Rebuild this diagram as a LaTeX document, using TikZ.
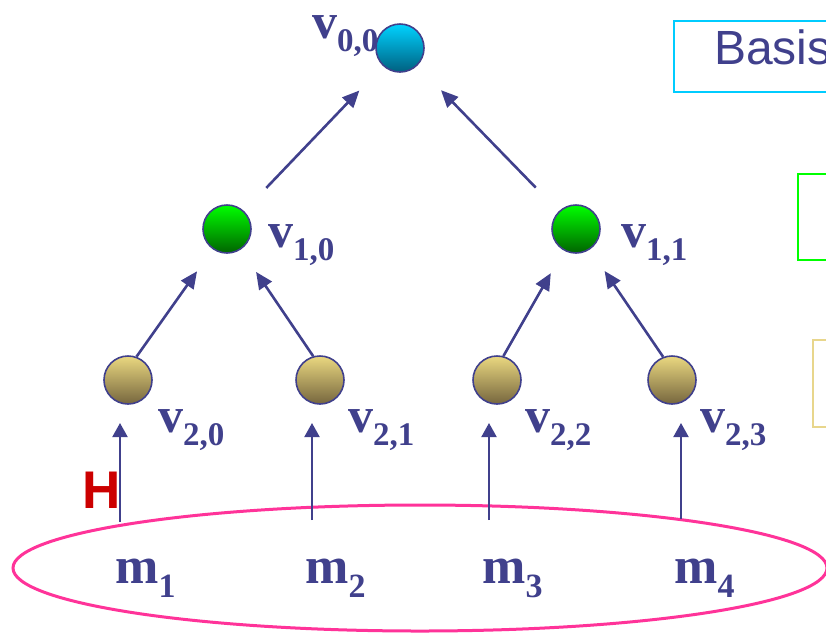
\documentclass[tikz,border=0pt]{standalone}
\usepackage{fontspec}
\setmainfont{Liberation Serif}
\newfontfamily\sansfont{Liberation Sans}
\usetikzlibrary{positioning}
\usetikzlibrary{arrows.meta}
\usetikzlibrary{shapes.geometric}

\definecolor{navy}{RGB}{64,64,140}
\definecolor{hotpink}{RGB}{255,51,153}
\definecolor{hred}{RGB}{204,0,0}
\definecolor{boxcyan}{RGB}{0,204,255}
\definecolor{boxgreen}{RGB}{0,255,0}
\definecolor{boxtan}{RGB}{232,214,140}
\definecolor{rootTop}{RGB}{0,210,255}
\definecolor{rootBot}{RGB}{0,96,128}
\definecolor{midTop}{RGB}{0,255,0}
\definecolor{midBot}{RGB}{0,100,0}
\definecolor{leafTop}{RGB}{234,216,128}
\definecolor{leafBot}{RGB}{118,102,62}

\newcommand{\vname}[2]{{\fontsize{50}{50}\selectfont\bfseries #1}\raisebox{-13pt}{\fontsize{33}{33}\selectfont\bfseries #2}}
\newcommand{\mname}[1]{{\fontsize{52}{52}\selectfont\bfseries m}\raisebox{-14pt}{\fontsize{34}{34}\selectfont\bfseries #1}}

\tikzset{
    vertex/.style={circle, draw=navy, line width=1.6pt, minimum size=48pt, inner sep=0pt},
    root/.style={vertex, top color=rootTop, bottom color=rootBot},
    mid/.style={vertex, top color=midTop, bottom color=midBot},
    leaf/.style={vertex, top color=leafTop, bottom color=leafBot},
    lbl/.style={anchor=base west, inner sep=0pt, text=navy},
    edge/.style={->, navy, line width=2.6pt},
    hash/.style={-{Triangle[length=14pt,width=15pt]}, navy, line width=2pt},
}

\begin{document}
\begin{tikzpicture}[x=1pt, y=-1pt, >={Triangle[length=17pt,width=15pt]}]
        \useasboundingbox (0,0) rectangle (826,633);
        \clip (0,0) rectangle (826,633);

        % Boxes on the right
        \draw[boxcyan, line width=2pt] (674,21) rectangle (900,92);
        \node[anchor=base west, inner sep=0pt, text=navy, font=\sansfont\fontsize{48}{48}\selectfont] (basis) at (714,64) {Basis};
        \draw[boxgreen, line width=2pt] (798,174) rectangle (900,260);
        \draw[boxtan, line width=2pt] (813,340) rectangle (900,427);

        % Labels (drawn before the circles)
        \node[lbl] (l00) at (312,38) {\vname{v}{0,0}};
        \node[lbl] (l10) at (268,247) {\vname{v}{1,0}};
        \node[lbl] (l11) at (621,247) {\vname{v}{1,1}};
        \node[lbl] (l20) at (158,432) {\vname{v}{2,0}};
        \node[lbl] (l21) at (348,432) {\vname{v}{2,1}};
        \node[lbl] (l22) at (525,432) {\vname{v}{2,2}};
        \node[lbl] (l23) at (700,432) {\vname{v}{2,3}};

        % Tree
        \node[root] (v00) at (400,48) {};
        \node[mid] (v10) at (227,229) {};
        \node[mid] (v11) at (576,229) {};
        \node[leaf] (v20) at (128,380) {};
        \node[leaf] (v21) at (320,380) {};
        \node[leaf] (v22) at (497,380) {};
        \node[leaf] (v23) at (672,380) {};

        \draw[edge, shorten <=32pt, shorten >=34pt] (v10) -- (v00);
        \draw[edge, shorten <=33pt, shorten >=34pt] (v11) -- (v00);
        \draw[edge, shorten >=27pt] (v20.70) -- (v10);
        \draw[edge, shorten >=27pt] (v21.106) -- (v10);
        \draw[edge, shorten >=26pt] (v22.75) -- (v11);
        \draw[edge, shorten >=26pt] (v23.111) -- (v11);

        % Message blocks
        \node[ellipse, draw=hotpink, line width=3pt, minimum width=814pt, minimum height=126pt] (msg) at (420,568) {};
        \node[lbl] (m1) at (115,583) {\mname{1}};
        \node[lbl] (m2) at (305,583) {\mname{2}};
        \node[lbl] (m3) at (482,583) {\mname{3}};
        \node[lbl] (m4) at (674,583) {\mname{4}};

        \foreach \i/\x/\y in {1/120/522, 2/312/520, 3/489/520, 4/681/519} {
            \coordinate (b\i) at (\x,\y);
            \coordinate (t\i) at (\x,423);
            \draw[hash] (b\i) -- (t\i);
        }
        \node[anchor=base west, inner sep=0pt, text=hred, font=\sansfont\bfseries\fontsize{53}{53}\selectfont] (hlbl) at (82,508) {H};
\end{tikzpicture}
\end{document}
